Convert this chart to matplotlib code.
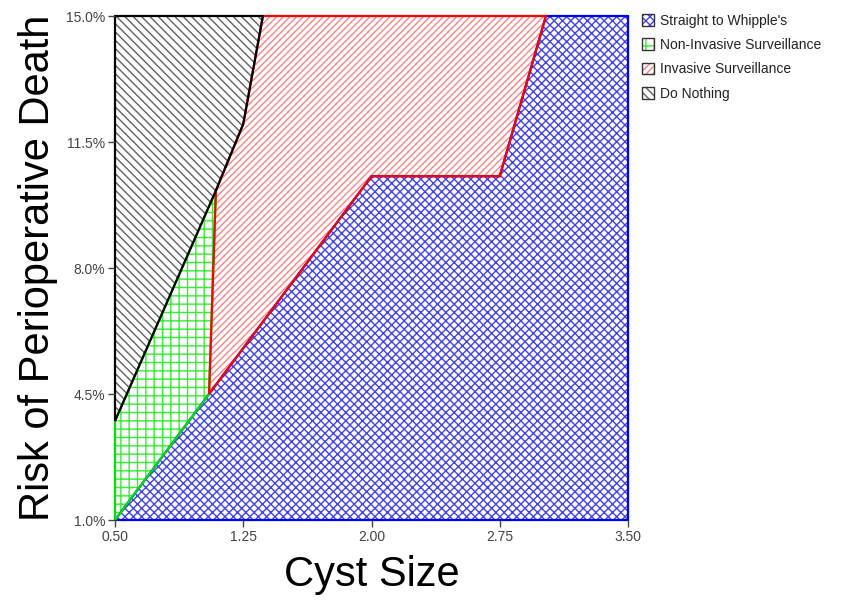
import matplotlib
matplotlib.use("Agg")
import matplotlib.pyplot as plt
from matplotlib.patches import Patch
from matplotlib.legend_handler import HandlerTuple
import numpy as np

plt.rcParams['font.family'] = ['Liberation Sans', 'DejaVu Sans']
plt.rcParams['hatch.linewidth'] = 1.0

# ---- data (cyst size, risk %) ----
x_min, x_max = 0.5, 3.5
y_min, y_max = 1.0, 15.0

# upper boundary of "Straight to Whipple's"
whipple_x = [0.50, 1.05, 2.00, 2.75, 3.02, 3.50]
whipple_y = [1.00, 4.50, 10.55, 10.55, 15.00, 15.00]

# lower boundary of "Do Nothing"
nothing_x = [0.50, 1.09, 1.25, 1.365]
nothing_y = [3.75, 10.15, 12.00, 15.00]

# boundary between non-invasive and invasive surveillance
split_x = [1.05, 1.09]
split_y = [4.50, 10.15]

xticks = [0.50, 1.25, 2.00, 2.75, 3.50]
xtick_labels = ['0.50', '1.25', '2.00', '2.75', '3.50']
yticks = [1.0, 4.5, 8.0, 11.5, 15.0]
ytick_labels = ['1.0%', '4.5%', '8.0%', '11.5%', '15.0%']

labels = ["Straight to Whipple's", "Non-Invasive Surveillance",
          "Invasive Surveillance", "Do Nothing"]
line_colors = ['#0000ff', '#00e000', '#ff0000', '#000000']
hatch_colors = ['#4040ff', '#33ee33', '#ff8080', '#606060']
hatches = ['xxxx', '++', '/////', '\\' * 4]

# ---- polygons built from the boundary arrays ----
bx = list(whipple_x) + [x_max, x_min]
by = list(whipple_y) + [y_min, y_min]

gx = [x_min, x_min] + nothing_x[:2] + [split_x[0]]
gy = [y_min, nothing_y[0]] + nothing_y[:2] + [split_y[0]]

rx = split_x + nothing_x[2:] + [whipple_x[4], whipple_x[3], whipple_x[2], whipple_x[1]]
ry = split_y + nothing_y[2:] + [whipple_y[4], whipple_y[3], whipple_y[2], whipple_y[1]]

kx = nothing_x + [x_min]
ky = nothing_y + [y_max]

polys = [(bx, by), (gx, gy), (rx, ry), (kx, ky)]

fig = plt.figure(figsize=(8.52, 6.09), dpi=100)
ax = fig.add_axes([115/852, 1-520/609, 513/852, 504/609])

for (px, py), lc, hc, h in zip(polys, line_colors, hatch_colors, hatches):
    ax.fill(px, py, facecolor='white', edgecolor=hc, hatch=h, linewidth=0)
for (px, py), lc in zip(polys, line_colors):
    ax.fill(px, py, fill=False, edgecolor=lc, linewidth=1.6, clip_on=False,
            joinstyle='miter')

ax.set_xlim(x_min, x_max)
ax.set_ylim(y_min, y_max)
for s in ax.spines.values():
    s.set_visible(False)
ax.set_xticks(xticks)
ax.set_xticklabels(xtick_labels)
ax.set_yticks(yticks)
ax.set_yticklabels(ytick_labels)
ax.tick_params(direction='out', length=5, width=1, colors='#444444',
               labelsize=10, pad=2)
ax.set_xlabel('Cyst Size', fontsize=30, labelpad=8)
ax.set_ylabel('Risk of Perioperative Death', fontsize=30, labelpad=6)

handles = []
for hc, h in zip(hatch_colors, hatches):
    p1 = Patch(facecolor='white', edgecolor=hc, hatch=h, linewidth=0)
    p2 = Patch(facecolor='none', edgecolor='#333333', linewidth=1)
    handles.append((p1, p2))
fig.legend(handles, labels, handler_map={tuple: HandlerTuple(ndivide=1)},
           loc='upper left', bbox_to_anchor=(636/852, 1-8/609),
           frameon=False, fontsize=10, handlelength=0.9, handleheight=0.9,
           handletextpad=0.4, labelspacing=0.75, borderaxespad=0,
           labelcolor='#222222')

fig.savefig('out.png', dpi=100)
